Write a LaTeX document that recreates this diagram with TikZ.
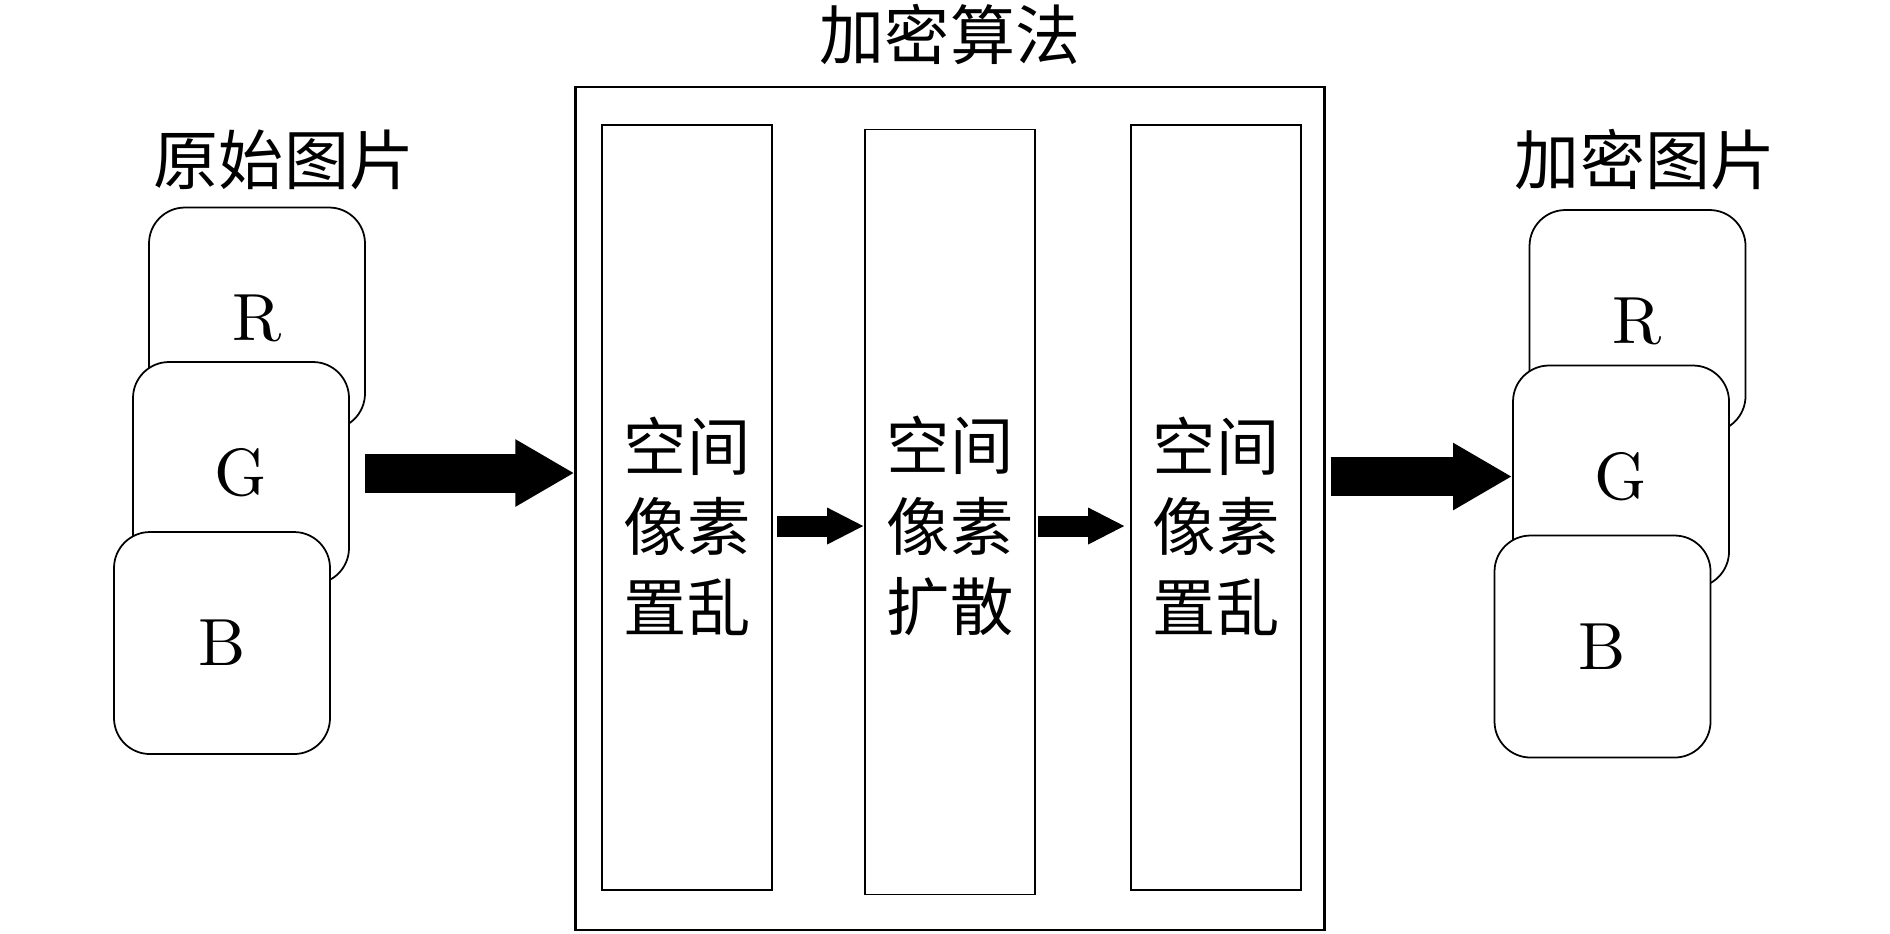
\documentclass[tikz,border=0pt]{standalone}
\usepackage{fontspec}
\usepackage{tikz}
\usetikzlibrary{arrows.meta,positioning,calc}
\newfontfamily\cjk{Noto Sans CJK SC}
\newfontfamily\rgbfont{lmroman10-regular}[Extension=.otf]

\begin{document}
\begin{tikzpicture}[
    x=0.1mm, y=-0.1mm,
    channel/.style={rectangle, draw, line width=0.5pt, fill=white, rounded corners=3.6mm, minimum width=21.6mm, minimum height=22.2mm, font=\rgbfont\fontsize{19}{23}\selectfont},
    stage/.style={rectangle, draw, line width=0.5pt, minimum width=17mm, minimum height=76.5mm},
    stagetext/.style={align=center, font=\cjk\fontsize{18}{22.9}\selectfont},
    titletext/.style={font=\cjk\fontsize{18.5}{22}\selectfont},
    bigarrow/.style={line width=3.9mm, -{Triangle[length=5.9mm, width=6.3mm]}},
    smallarrow/.style={line width=2.1mm, -{Triangle[length=3.7mm, width=3.4mm]}}
]
    \useasboundingbox (0,0) rectangle (1890,933);

    \node[titletext] (title) at (950,34) {加密算法};
    \node[stage, line width=0.6pt, minimum width=74.9mm, minimum height=84.3mm] (algo) at (950,508.5) {};
    \node[stage] (perm1) at (687,507.5) {};
    \node[stage] (diff) at (950,512) {};
    \node[stage] (perm2) at (1216,507.5) {};
    \node[stagetext] (perm1text) at (687,526) {空间\\像素\\置乱};
    \node[stagetext] (difftext) at (950,526) {空间\\像素\\扩散};
    \node[stagetext] (perm2text) at (1216,526) {空间\\像素\\置乱};

    \node[titletext] (srclabel) at (284,160) {原始图片};
    \node[channel] (Rl) at (257,318.5) {R};
    \node[channel] (Gl) at (241,473) {G};
    \node[channel] (Bl) at (222,643) {B};

    \node[titletext] (enclabel) at (1645,160) {加密图片};
    \node[channel] (Rr) at (1637.5,321) {R};
    \node[channel] (Gr) at (1621,476.5) {G};
    \node[channel] (Br) at (1602.5,646.5) {B};

    \draw[bigarrow, shorten <=1.5mm] (Gl.east) -- (Gl.east -| algo.west);
    \draw[bigarrow, shorten <=0.5mm] (algo.east |- Gr.west) -- (Gr.west);
    \draw[smallarrow, shorten <=0.4mm] (perm1.east |- perm1text) -- (diff.west |- perm1text);
    \draw[smallarrow, shorten <=0.2mm, shorten >=0.5mm] (diff.east |- difftext) -- (perm2.west |- difftext);
\end{tikzpicture}
\end{document}
